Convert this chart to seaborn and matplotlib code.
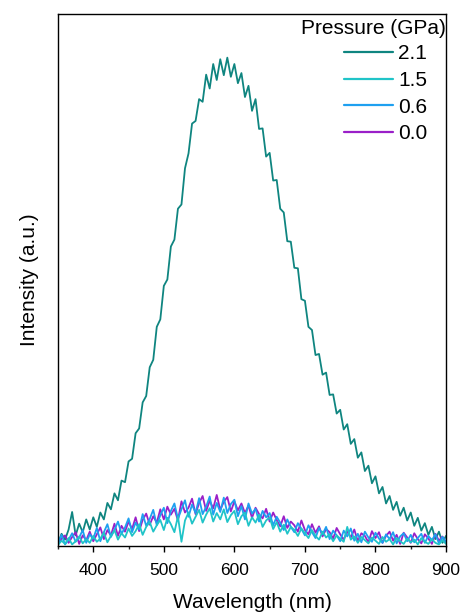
import numpy as np
import pandas as pd
import matplotlib
matplotlib.use('Agg')
import matplotlib.pyplot as plt
import seaborn as sns

# wavelength grid (nm), 5 nm steps
wavelength = np.arange(350, 901, 5)

# intensities (a.u.), one row = 10 points (50 nm)
p21 = [0.4, 2.3, 1.2, 3.1, 6.4, 2.0, 4.2, 2.6, 5.0, 3.1,
       5.4, 3.6, 6.3, 5.0, 8.1, 6.9, 9.9, 8.6, 12.3, 12.0,
       15.9, 16.4, 21.2, 22.1, 27.0, 28.2, 33.6, 35.0, 41.2, 42.6,
       48.9, 50.1, 56.3, 57.6, 63.4, 64.2, 71.0, 73.8, 79.4, 79.9,
       84.0, 83.5, 88.6, 86.0, 90.6, 87.6, 91.5, 88.5, 91.8, 88.2,
       90.6, 87.0, 88.9, 84.4, 86.5, 81.8, 84.0, 78.4, 78.5, 73.2,
       73.9, 68.7, 68.8, 63.4, 62.7, 57.3, 57.2, 52.3, 52.2, 46.4,
       46.1, 41.2, 40.6, 35.9, 36.1, 32.2, 32.6, 28.4, 28.5, 24.9,
       25.6, 21.9, 22.9, 19.2, 20.1, 16.6, 17.6, 14.1, 15.1, 11.8,
       13.1, 9.9, 11.1, 8.0, 9.4, 6.8, 8.3, 5.7, 7.2, 4.8,
       6.3, 3.8, 5.3, 2.9, 4.3, 2.1, 3.6, 1.3, 2.7, 0.6,
       1.9]

p15 = [0.2, 1.0, 0.4, 1.5, 0.3, 0.9, 1.8, 0.5, 1.3, 0.6,
       1.9, 0.8, 1.4, 2.5, 0.7, 1.9, 3.0, 1.2, 2.4, 1.6,
       3.3, 1.9, 2.8, 4.1, 2.1, 3.6, 4.5, 2.7, 3.9, 4.9,
       3.0, 5.3, 4.1, 2.6, 5.6, 0.8, 4.8, 6.3, 4.2, 5.5,
       6.8, 4.4, 5.9, 7.1, 4.6, 6.2, 5.0, 6.9, 4.5, 5.8,
       6.6, 4.1, 5.6, 6.3, 3.8, 5.4, 4.4, 5.9, 3.6, 4.8,
       5.4, 3.2, 4.5, 2.7, 4.0, 2.3, 3.6, 3.0, 1.9, 3.3,
       2.4, 1.5, 3.0, 1.9, 1.2, 2.7, 1.6, 2.2, 0.9, 2.0,
       1.4, 0.8, 3.6, 1.2, 1.8, 0.6, 1.7, 1.1, 0.5, 1.6,
       1.0, 0.4, 1.7, 0.8, 1.3, 0.3, 1.5, 0.9, 0.4, 1.4,
       0.7, 1.2, 0.3, 1.5, 0.8, 0.4, 1.3, 0.6, 0.3, 1.1,
       0.4]

p06 = [0.5, 2.1, 0.3, 1.2, 2.4, 0.8, 1.6, 3.0, 0.6, 2.2,
       1.4, 3.4, 0.9, 2.6, 4.1, 1.7, 3.0, 4.6, 2.3, 3.5,
       5.2, 2.6, 4.4, 3.1, 6.0, 3.8, 5.1, 6.8, 3.9, 5.8,
       7.2, 4.3, 6.6, 8.0, 5.1, 6.9, 8.6, 5.5, 7.8, 6.2,
       9.0, 6.0, 7.4, 9.3, 5.9, 8.1, 6.4, 9.1, 6.2, 7.9,
       8.7, 5.6, 7.5, 5.0, 8.0, 6.1, 7.0, 4.6, 6.6, 5.4,
       6.2, 3.9, 5.5, 4.4, 3.0, 5.0, 3.6, 2.6, 4.3, 3.2,
       2.0, 3.9, 2.6, 1.5, 3.4, 2.2, 3.6, 1.3, 2.9, 2.0,
       0.9, 2.9, 1.8, 3.3, 1.0, 2.3, 0.7, 2.7, 1.6, 0.8,
       2.5, 1.4, 0.6, 2.2, 1.3, 2.6, 0.5, 1.8, 2.4, 0.9,
       2.1, 0.7, 1.5, 2.3, 0.6, 1.9, 1.1, 2.2, 0.5, 1.7,
       0.8]

p00 = [0.3, 1.4, 2.0, 0.6, 1.7, 2.6, 0.4, 2.0, 1.1, 2.7,
       0.9, 2.2, 3.5, 1.3, 3.0, 2.0, 4.2, 1.9, 3.8, 2.7,
       4.6, 3.2, 5.4, 2.8, 4.9, 6.1, 4.0, 5.6, 4.4, 6.9,
       5.0, 7.4, 5.9, 7.0, 4.8, 8.4, 6.3, 7.2, 8.9, 6.0,
       8.1, 9.4, 6.6, 8.5, 7.1, 9.6, 6.8, 8.3, 9.2, 6.5,
       8.4, 6.7, 8.0, 6.2, 7.6, 5.3, 7.2, 6.0, 5.2, 7.0,
       4.6, 6.3, 4.9, 3.7, 5.6, 3.4, 4.6, 3.9, 2.7, 4.8,
       3.0, 2.2, 4.1, 2.5, 3.7, 1.8, 3.2, 2.6, 1.4, 3.4,
       2.2, 1.2, 2.8, 1.6, 3.1, 0.9, 2.4, 1.9, 0.7, 2.8,
       1.5, 2.6, 0.6, 1.9, 2.7, 1.0, 2.1, 0.4, 2.5, 1.6,
       0.6, 2.4, 1.3, 0.5, 2.2, 1.4, 0.4, 2.3, 1.0, 1.8,
       0.5]

pressures = ['2.1', '1.5', '0.6', '0.0']
series = {'2.1': p21, '1.5': p15, '0.6': p06, '0.0': p00}
colors = {'2.1': '#0f8580', '1.5': '#20c4c8', '0.6': '#1ea0f0', '0.0': '#9a1fc8'}

sns.set_style('white')
plt.rcParams['font.family'] = ['Liberation Sans', 'DejaVu Sans']
plt.rcParams['text.color'] = 'black'

fig = plt.figure(figsize=(4.63, 6.12), dpi=100)
ax = fig.add_axes([0.1253, 0.1078, 0.838, 0.8693])

# draw order: 1.5 ends up on top like in the figure
for p in ['2.1', '0.0', '0.6', '1.5']:
    df = pd.DataFrame({'Wavelength': wavelength, 'Intensity': series[p]})
    sns.lineplot(data=df, x='Wavelength', y='Intensity', ax=ax,
                 color=colors[p], lw=1.3, label=p, estimator=None)

ax.set_xlim(350, 900)
ax.set_ylim(0, 100)
ax.set_xticks(range(400, 901, 100))
ax.set_xticks(range(350, 900, 100), minor=True)
ax.set_yticks([])
ax.tick_params(axis='x', which='major', bottom=True, direction='out',
               length=4.5, width=1, labelsize=12.5, colors='black', pad=7.5)
ax.tick_params(axis='x', which='minor', bottom=True, direction='out',
               length=2.5, width=1)
for s in ax.spines.values():
    s.set_color('black')
    s.set_linewidth(1.0)

ax.set_xlabel('Wavelength (nm)', fontsize=15, color='black', labelpad=11)
ax.set_ylabel('Intensity (a.u.)', fontsize=15, color='black', labelpad=14)

# legend entries, title written separately (right aligned with the frame)
handles, labels = ax.get_legend_handles_labels()
order = [labels.index(p) for p in pressures]
leg = ax.legend([handles[i] for i in order], pressures,
                loc='upper left', bbox_to_anchor=(0.737, 0.943),
                frameon=False, fontsize=15, handlelength=2.35,
                labelspacing=0.37, borderaxespad=0.0, borderpad=0.0,
                handletextpad=0.25)
for line in leg.get_lines():
    line.set_linewidth(1.6)
ax.text(1.0, 0.972, 'Pressure (GPa)', transform=ax.transAxes,
        ha='right', va='center', fontsize=15, color='black')

fig.savefig('out.png', dpi=100)
